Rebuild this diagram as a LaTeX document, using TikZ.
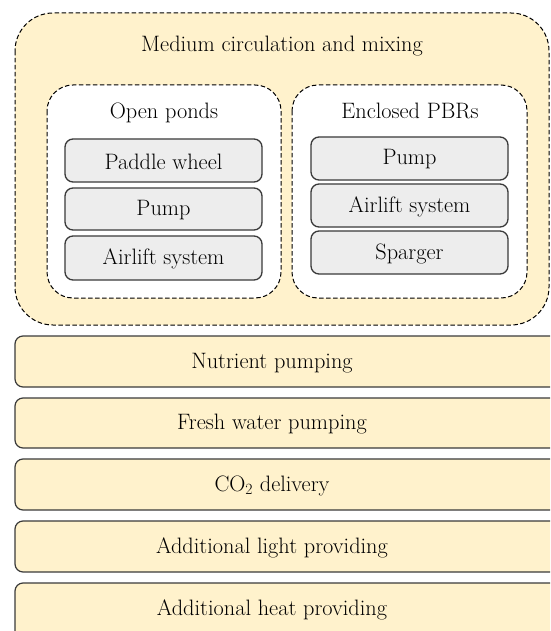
\documentclass[tikz,border=0pt]{standalone}
\definecolor{cream}{HTML}{FFF2CC}
\definecolor{lgray}{HTML}{EDEDED}
\definecolor{edge}{HTML}{3A3A3A}
\begin{document}
\begin{tikzpicture}[x=1pt,y=-1pt,
  every node/.style={font=\rmfamily\fontsize{22.3}{26}\selectfont, inner sep=0pt},
  groupbox/.style={draw=black, line width=1pt, dash pattern=on 4.5pt off 2.5pt, rounded corners=#1},
  itembox/.style={draw=edge, line width=1.3pt, fill=lgray, rounded corners=8pt},
  barbox/.style={draw=edge, line width=1.2pt, fill=cream, rounded corners=8pt},
  lbl/.style={anchor=center}]
\useasboundingbox (0,0) rectangle (550,631);
\clip (0,0) rectangle (550,631);
% outer group
\draw[groupbox=38pt, fill=cream] (15,13) rectangle (549,325);
\node[lbl] (title) at (282,46) {Medium circulation and mixing};
% open ponds
\draw[groupbox=26pt, fill=white] (47,85) rectangle (281,298);
\node[lbl] (op) at (164,113) {Open ponds};
\draw[itembox] (65,139) rectangle (262,182);
\node[lbl] (op1) at (163.5,161.5) {Paddle wheel};
\draw[itembox] (65,188) rectangle (262,230);
\node[lbl] (op2) at (163.5,210) {Pump};
\draw[itembox] (65,236) rectangle (262,280);
\node[lbl] (op3) at (163.5,259) {Airlift system};
% enclosed PBRs
\draw[groupbox=26pt, fill=white] (292,85) rectangle (527,298);
\node[lbl] (pb) at (410,111) {Enclosed PBRs};
\draw[itembox] (311,137) rectangle (508,180);
\node[lbl] (pb1) at (409.5,159.5) {Pump};
\draw[itembox] (311,184) rectangle (508,227);
\node[lbl] (pb2) at (409.5,206.5) {Airlift system};
\draw[itembox] (311,231) rectangle (508,274);
\node[lbl] (pb3) at (409.5,253.5) {Sparger};
% bottom bars
\draw[barbox] (15,336) rectangle (570,387);
\node[lbl] (b1) at (272,363) {Nutrient pumping};
\draw[barbox] (15,398) rectangle (570,448);
\node[lbl] (b2) at (272,424) {Fresh water pumping};
\draw[barbox] (15,459) rectangle (570,510);
\node[lbl] (b3) at (272,486) {CO\textsubscript{2} delivery};
\draw[barbox] (15,521) rectangle (570,572);
\node[lbl] (b4) at (272,547.5) {Additional light providing};
\draw[barbox] (15,583) rectangle (570,640);
\node[lbl] (b5) at (272,610) {Additional heat providing};
\end{tikzpicture}
\end{document}
